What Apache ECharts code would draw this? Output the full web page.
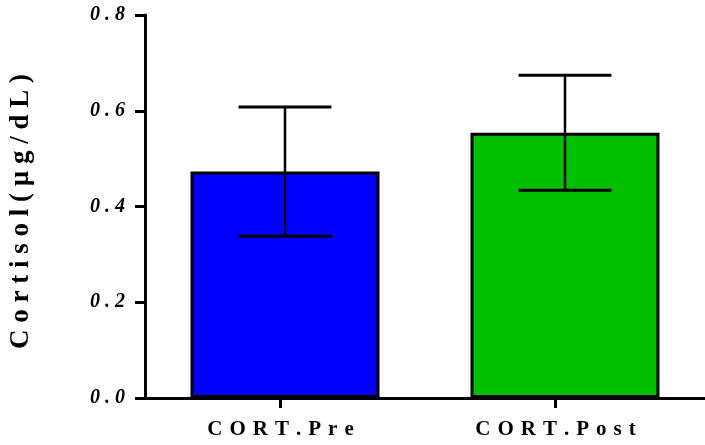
<!DOCTYPE html>
<html>
<head>
<meta charset="utf-8">
<script src="https://cdn.jsdelivr.net/npm/echarts@6/dist/echarts.min.js"></script>
<style>html,body{margin:0;padding:0;background:#fff}#c{width:705px;height:445px}</style>
</head>
<body>
<div id="c"></div>
<script>
var categories = ['CORT.Pre', 'CORT.Post'];
var means = [0.473, 0.554];
var sds = [0.135, 0.120];
var barColors = ['#0000FF', '#00C000'];
var yTicks = [0.0, 0.2, 0.4, 0.6, 0.8];
var yTitle = 'Cortisol (µg/dL)';

function spaced(s, sep) {
  return s.split(' ').map(function (w) { return w.split('').join(sep); }).join(' ');
}

var chart = echarts.init(document.getElementById('c'));
var FONT = '"Liberation Serif", "DejaVu Serif", serif';

chart.setOption({
  animation: false,
  grid: [
    {left: 143, top: 15, bottom: 47, width: 572},
    {left: 143, top: 15, bottom: 47, width: 550}
  ],
  xAxis: [
    {
      gridIndex: 0, type: 'category', data: categories,
      axisLine: {show: true, lineStyle: {color: '#000', width: 3}},
      axisTick: {show: false}, axisLabel: {show: false}, splitLine: {show: false}
    },
    {
      gridIndex: 1, type: 'category', data: categories,
      axisLine: {show: false},
      axisTick: {show: true, alignWithLabel: true, length: 10, lineStyle: {color: '#000', width: 3}},
      axisLabel: {
        show: true, margin: 21, color: '#000', fontFamily: FONT, fontWeight: 'bold', fontSize: 21,
        formatter: function (v) { return spaced(v, '\u2004'); }
      },
      splitLine: {show: false}
    }
  ],
  yAxis: [
    {
      gridIndex: 0, type: 'value', min: 0, max: 0.8, interval: 0.2,
      axisLine: {show: true, lineStyle: {color: '#000', width: 3}},
      axisTick: {show: true, length: 10, lineStyle: {color: '#000', width: 3}},
      splitLine: {show: false},
      axisLabel: {
        margin: 20, color: '#000', fontFamily: FONT, fontWeight: 'bold', fontStyle: 'italic', fontSize: 20,
        formatter: function (v) {
          var idx = yTicks.indexOf(Math.round(v * 10) / 10);
          return spaced(yTicks[idx >= 0 ? idx : 0].toFixed(1), '\u2005');
        }
      },
      name: spaced(yTitle, '\u2005'), nameLocation: 'middle', nameGap: 110, nameRotate: 90,
      nameTextStyle: {color: '#000', fontFamily: FONT, fontWeight: 'bold', fontSize: 27, padding: [0, 10, 0, 0]}
    },
    {
      gridIndex: 1, type: 'value', min: 0, max: 0.8, interval: 0.2, show: false
    }
  ],
  series: [
    {
      type: 'bar', xAxisIndex: 0, yAxisIndex: 0, barWidth: 189,
      data: means.map(function (m, i) {
        return {value: m, itemStyle: {color: barColors[i], borderColor: '#000', borderWidth: 3}};
      }),
      z: 2
    },
    {
      type: 'custom', xAxisIndex: 0, yAxisIndex: 0, z: 3,
      data: means.map(function (m, i) { return [i, m, sds[i]]; }),
      renderItem: function (params, api) {
        var i = api.value(0), m = api.value(1), s = api.value(2);
        var hi = api.coord([i, m + s]);
        var lo = api.coord([i, m - s]);
        var hw = api.size([1, 0])[0] * 0.166;
        var st = {stroke: '#000', lineWidth: 3};
        return {
          type: 'group',
          children: [
            {type: 'line', shape: {x1: hi[0], y1: hi[1], x2: lo[0], y2: lo[1]}, style: {stroke: '#000', lineWidth: 2.5}},
            {type: 'line', shape: {x1: hi[0] - hw, y1: hi[1], x2: hi[0] + hw, y2: hi[1]}, style: st},
            {type: 'line', shape: {x1: lo[0] - hw, y1: lo[1], x2: lo[0] + hw, y2: lo[1]}, style: st}
          ]
        };
      }
    }
  ]
});
</script>
</body>
</html>
